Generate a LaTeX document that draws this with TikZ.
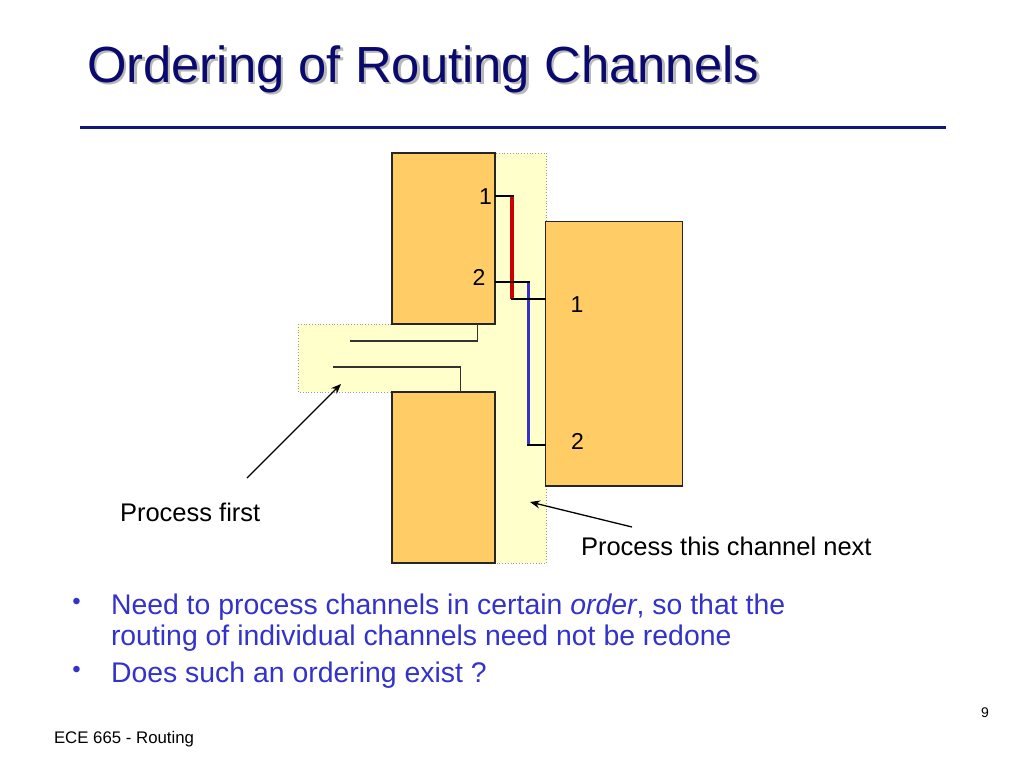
\documentclass[tikz,border=0pt]{standalone}
\usepackage{fontspec}
\setmainfont{Liberation Sans}
\usetikzlibrary{arrows.meta}
\definecolor{blockorange}{RGB}{255,204,102}
\definecolor{chanyellow}{RGB}{255,255,204}
\definecolor{titleblue}{RGB}{10,10,110}
\definecolor{rulenavy}{RGB}{22,22,122}
\definecolor{bulletblue}{RGB}{51,51,204}
\definecolor{wirered}{RGB}{204,0,0}
\definecolor{wireblue}{RGB}{51,51,204}
\begin{document}
\begin{tikzpicture}[x=1pt,y=-1pt,
  txt/.style={inner sep=0pt,outer sep=0pt},
  block/.style={fill=blockorange,draw=black!85,line width=1.2pt},
  chan/.style={fill=chanyellow,draw=black!40,line width=0.8pt,dotted},
  pinwire/.style={draw=black,line width=2pt},
  redwire/.style={draw=wirered,line width=3.2pt},
  bluewire/.style={draw=wireblue,line width=3.2pt},
  chanwire/.style={draw=black!80,line width=1.3pt},
  pointer/.style={draw=black,line width=1.3pt,-{Stealth[length=10pt,width=8pt]}},
  pinlabel/.style={txt,font=\fontsize{23}{27}\selectfont},
  callout/.style={txt,font=\fontsize{25.5}{30}\selectfont},
  bullettext/.style={txt,font=\fontsize{28.4}{32}\selectfont,text=bulletblue}]
\useasboundingbox (0,0) rectangle (1024,768);
\fill[white] (0,0) rectangle (1024,768);

% title with soft shadow
\node[txt,anchor=base west,text=black!28,font=\fontsize{50.8}{56}\selectfont] (titleshadow) at (89.5,84.5) {Ordering of Routing Channels};
\node[txt,anchor=base west,text=titleblue,font=\fontsize{50.8}{56}\selectfont] (title) at (87,82) {Ordering of Routing Channels};
\draw[rulenavy,line width=3pt] (80,127.5) coordinate (ruleL) -- (946,127.5) coordinate (ruleR);

% channels
\draw[chan] (495,153) rectangle (546.5,563);
\draw[chan] (298,324) rectangle (495,392);
\fill[chanyellow] (494,325) rectangle (500,391);

% blocks
\draw[block] (392,153) rectangle (495,324);
\draw[block] (392,392) rectangle (495,563);
\draw[block] (545.5,221.5) rectangle (682.5,486);

% horizontal channel wires
\draw[chanwire] (350,341) -- (477.5,341) -- (477.5,324);
\draw[chanwire] (333,367) -- (460.5,367) -- (460.5,392);

% vertical channel wires
\coordinate (p1L) at (495,196);
\coordinate (p2L) at (495,281.5);
\coordinate (p1R) at (545.5,298.5);
\coordinate (p2R) at (545.5,444.5);
\draw[redwire] (512,196) -- (512,298.5);
\draw[bluewire] (528.5,281.5) -- (528.5,444.5);
\draw[pinwire] (p1L) -- (513.5,196);
\draw[pinwire] (p2L) -- (530,281.5);
\draw[pinwire] (510.5,298.5) -- (p1R);
\draw[pinwire] (527,444.5) -- (p2R);

% pin labels
\node[pinlabel,anchor=base east] (l1) at (492,204.5) {1};
\node[pinlabel,anchor=base east] (l2) at (485.5,285.7) {2};
\node[pinlabel,anchor=base west] (r1) at (570.5,312.3) {1};
\node[pinlabel,anchor=base west] (r2) at (571,449.3) {2};

% callouts
\node[callout,anchor=base west] (pfirst) at (120,521.7) {Process first};
\node[callout,anchor=base west] (pnext) at (581,555.5) {Process this channel next};
\coordinate (pfirstTail) at (247,478);
\coordinate (pfirstHead) at (341,384);
\coordinate (pnextTail) at (632,527);
\coordinate (pnextHead) at (530,502);
\draw[pointer] (pfirstTail) -- (pfirstHead);
\draw[pointer] (pnextTail) -- (pnextHead);

% bullets
\node[txt,text=bulletblue,font=\fontsize{24}{28}\selectfont] (b1) at (76.5,604) {•};
\node[txt,text=bulletblue,font=\fontsize{24}{28}\selectfont] (b2) at (76.5,672) {•};
\node[bullettext,anchor=base west] (t1) at (111,614.3) {Need to process channels in certain \textit{order}, so that the};
\node[bullettext,anchor=base west] (t2) at (111,645) {routing of individual channels need not be redone};
\node[bullettext,anchor=base west] (t3) at (111,682) {Does such an ordering exist ?};

% footer
\node[txt,anchor=base west,font=\fontsize{16.8}{20}\selectfont] (footer) at (54,743) {ECE 665 - Routing};
\node[txt,anchor=base east,font=\fontsize{14}{17}\selectfont] (pagenum) at (989,717) {9};
\end{tikzpicture}
\end{document}
